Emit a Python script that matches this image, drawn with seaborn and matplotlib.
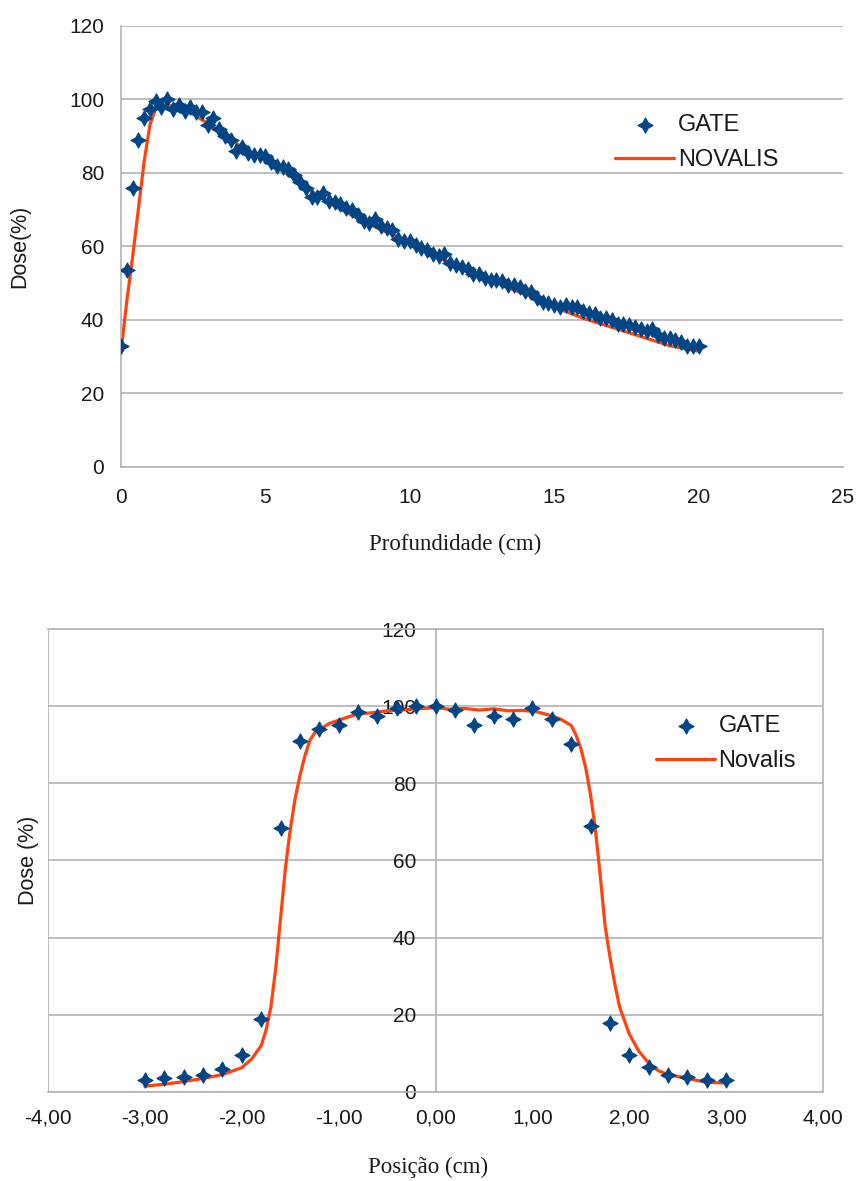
import numpy as np
import pandas as pd
import matplotlib
matplotlib.use("Agg")
import matplotlib.pyplot as plt
import matplotlib.ticker as mticker
import seaborn as sns

# ---------------- data: depth dose (top) ----------------
depth_gate = [round(0.2 * i, 1) for i in range(101)]
dose_gate = [33, 53.5, 76, 89, 95, 97.5, 99.5, 98, 100, 97.5,
             98.5, 97, 98, 96.5, 96.5, 93, 95, 92, 90, 89,
             86, 87, 85.5, 85, 85, 84.5, 83, 82, 81.5, 81,
             79.5, 77.5, 76, 73.5, 73.5, 74.5, 72.5, 72, 71.5, 70.5,
             70, 68.5, 67, 66.5, 67.5, 65.5, 65, 64.5, 62, 61.5,
             61.5, 60.5, 59.5, 59, 58, 57.5, 58, 55.5, 55, 54.5,
             54, 52.5, 52.5, 51.5, 51, 51, 50.5, 49.5, 49.5, 49,
             48, 47.5, 46, 45, 44.5, 44, 43.5, 44, 43.5, 43.5,
             42.5, 42, 41.5, 40.5, 40.5, 40, 39, 39, 38.5, 38,
             37.5, 37, 37.5, 36, 35, 35, 34.5, 34, 33, 33, 33]
depth_novalis = [0, 0.2, 0.4, 0.6, 0.8, 1.0, 1.2, 1.5, 2, 2.5, 3, 3.5, 4, 4.5, 5,
                 5.5, 6, 6.5, 7, 7.5, 8, 8.5, 9, 9.5, 10, 11, 12, 13, 14, 15,
                 16, 17, 18, 19, 20]
dose_novalis = [31.5, 45, 57, 70, 83, 93, 97.5, 98.5, 98, 96, 93.5, 90.5, 88, 85.5, 83.5,
                81, 78.5, 75.5, 73, 70.5, 68.5, 66.5, 64.5, 63, 61, 57, 53.5, 50, 47, 43.5,
                40.5, 38, 35.5, 33, 31.5]

# ---------------- data: profile (bottom) ----------------
pos_gate = [round(-3.0 + 0.2 * i, 1) for i in range(31)]
prof_gate = [3, 3.5, 4, 4.5, 6, 9.5, 19, 68.5, 91, 94, 95, 98.5, 97.5, 99.5, 100,
             100, 99, 95, 97.5, 96.8, 99.5, 96.8, 90.2, 69, 18, 9.5, 6.5, 4.5, 4, 3, 3]
pos_novalis = [-3.0, -2.8, -2.6, -2.4, -2.2, -2.0, -1.9, -1.8, -1.75, -1.7, -1.65, -1.6,
               -1.55, -1.5, -1.45, -1.4, -1.35, -1.3, -1.25, -1.1, -0.95, -0.8, -0.65,
               -0.5, -0.35, -0.2, 0.0, 0.15, 0.3, 0.45, 0.6, 0.75, 0.9, 1.05, 1.2, 1.3,
               1.4, 1.45, 1.5, 1.55, 1.6, 1.65, 1.7, 1.75, 1.8, 1.85, 1.9, 2.0, 2.1,
               2.2, 2.3, 2.4, 2.6, 2.8, 3.0]
prof_novalis = [1.5, 2, 2.7, 3.5, 4.5, 6.3, 8.5, 12, 16, 22, 32, 45,
                58, 68, 76, 82, 87, 91, 93, 95.5, 96.8, 98, 98.3,
                98.8, 99, 99.3, 99.6, 99.2, 99.4, 99, 99.3, 98.8, 98.9, 98.5, 97.5, 96.5,
                95, 92.5, 89, 84, 77, 68, 56, 43, 35, 28, 22, 15, 10.5,
                7.5, 5.5, 4.5, 3.5, 2.5, 2.3]

df_dg = pd.DataFrame({"x": depth_gate, "y": dose_gate})
df_dn = pd.DataFrame({"x": depth_novalis, "y": dose_novalis})
df_pg = pd.DataFrame({"x": pos_gate, "y": prof_gate})
df_pn = pd.DataFrame({"x": pos_novalis, "y": prof_novalis})

sns.set_theme(style="white")
plt.rcParams["font.family"] = ["Liberation Sans", "DejaVu Sans"]

BLUE = "#004586"
ORANGE = "#ff420e"
GRID = "#b3b3b3"
TXT = "#1a1a1a"
SERIF = ["Liberation Serif", "DejaVu Serif"]
star = (4, 1, 0)
TICK_FS = 15
LEG_FS = 17
LAB_FS = 16.5

fig = plt.figure(figsize=(8.58, 11.81), dpi=100)

# ================= top chart =================
ax1 = fig.add_axes([0.141, 0.6046, 0.8415, 0.3734])
sns.lineplot(data=df_dn, x="x", y="y", ax=ax1, color=ORANGE, linewidth=2.3,
             label="NOVALIS", zorder=2)
sns.scatterplot(data=df_dg, x="x", y="y", ax=ax1, color=BLUE, marker=star, s=120,
                linewidth=0.8, edgecolor=BLUE, label="GATE", zorder=3)
ax1.set_xlim(0, 25)
ax1.set_ylim(0, 120)
ax1.set_xticks([0, 5, 10, 15, 20, 25])
ax1.set_yticks([0, 20, 40, 60, 80, 100, 120])
ax1.yaxis.grid(True, color=GRID, linewidth=1.2)
ax1.set_axisbelow(True)
for s in ["top", "right"]:
    ax1.spines[s].set_visible(False)
for s in ["left", "bottom"]:
    ax1.spines[s].set_color(GRID)
    ax1.spines[s].set_linewidth(1.2)
ax1.tick_params(axis="x", labelsize=TICK_FS, colors=TXT, length=0, pad=15)
ax1.tick_params(axis="y", labelsize=TICK_FS, colors=TXT, length=0, pad=12)
ax1.set_xlabel("Profundidade (cm)", fontsize=LAB_FS, family=SERIF, color=TXT)
ax1.set_ylabel("Dose(%)", fontsize=LAB_FS - 1, color=TXT)
ax1.xaxis.set_label_coords(0.463, -0.152)
ax1.yaxis.set_label_coords(-0.125, 0.5)
h, l = ax1.get_legend_handles_labels()
order = [l.index("GATE"), l.index("NOVALIS")]
ax1.legend([h[i] for i in order], [l[i] for i in order], loc="center left",
           bbox_to_anchor=(0.655, 0.735), frameon=False, fontsize=LEG_FS,
           handlelength=2.5, handletextpad=0.15, labelspacing=0.55, labelcolor=TXT)

# ================= bottom chart =================
ax2 = fig.add_axes([0.056, 0.0754, 0.9033, 0.392])
sns.lineplot(data=df_pn, x="x", y="y", ax=ax2, color=ORANGE, linewidth=2.3,
             label="Novalis", zorder=2)
sns.scatterplot(data=df_pg, x="x", y="y", ax=ax2, color=BLUE, marker=star, s=120,
                linewidth=0.8, edgecolor=BLUE, label="GATE", zorder=3)
ax2.set_xlim(-4, 4)
ax2.set_ylim(0, 120)
ax2.set_xticks(np.arange(-4, 5, 1))
ax2.set_yticks([0, 20, 40, 60, 80, 100, 120])
ax2.xaxis.set_major_formatter(mticker.FuncFormatter(lambda v, p: f"{v:.2f}".replace(".", ",")))
ax2.yaxis.grid(True, color=GRID, linewidth=1.2)
ax2.set_axisbelow(True)
for s in ["top", "right", "bottom", "left"]:
    ax2.spines[s].set_color(GRID)
    ax2.spines[s].set_linewidth(1.2)
ax2.spines["left"].set_position(("data", 0))
ax2.axvline(ax2.get_xlim()[0], color=GRID, linewidth=1.2, zorder=0)
ax2.tick_params(axis="x", labelsize=TICK_FS, colors=TXT, length=8, width=1.2,
                color=GRID, direction="out", pad=4)
ax2.tick_params(axis="y", labelsize=TICK_FS, colors=TXT, length=0, pad=14)
ax2.set_xlabel("Posição (cm)", fontsize=LAB_FS, family=SERIF, color=TXT)
ax2.set_ylabel("Dose (%)", fontsize=LAB_FS - 1, color=TXT)
ax2.xaxis.set_label_coords(0.49, -0.14)
ax2.yaxis.set_label_coords(-0.012, 0.5, transform=ax2.transAxes)
h, l = ax2.get_legend_handles_labels()
order = [l.index("GATE"), l.index("Novalis")]
ax2.legend([h[i] for i in order], [l[i] for i in order], loc="center left",
           bbox_to_anchor=(0.757, 0.752), frameon=False, fontsize=LEG_FS,
           handlelength=2.5, handletextpad=0.15, labelspacing=0.55, labelcolor=TXT)

fig.savefig("out.png", dpi=100)
